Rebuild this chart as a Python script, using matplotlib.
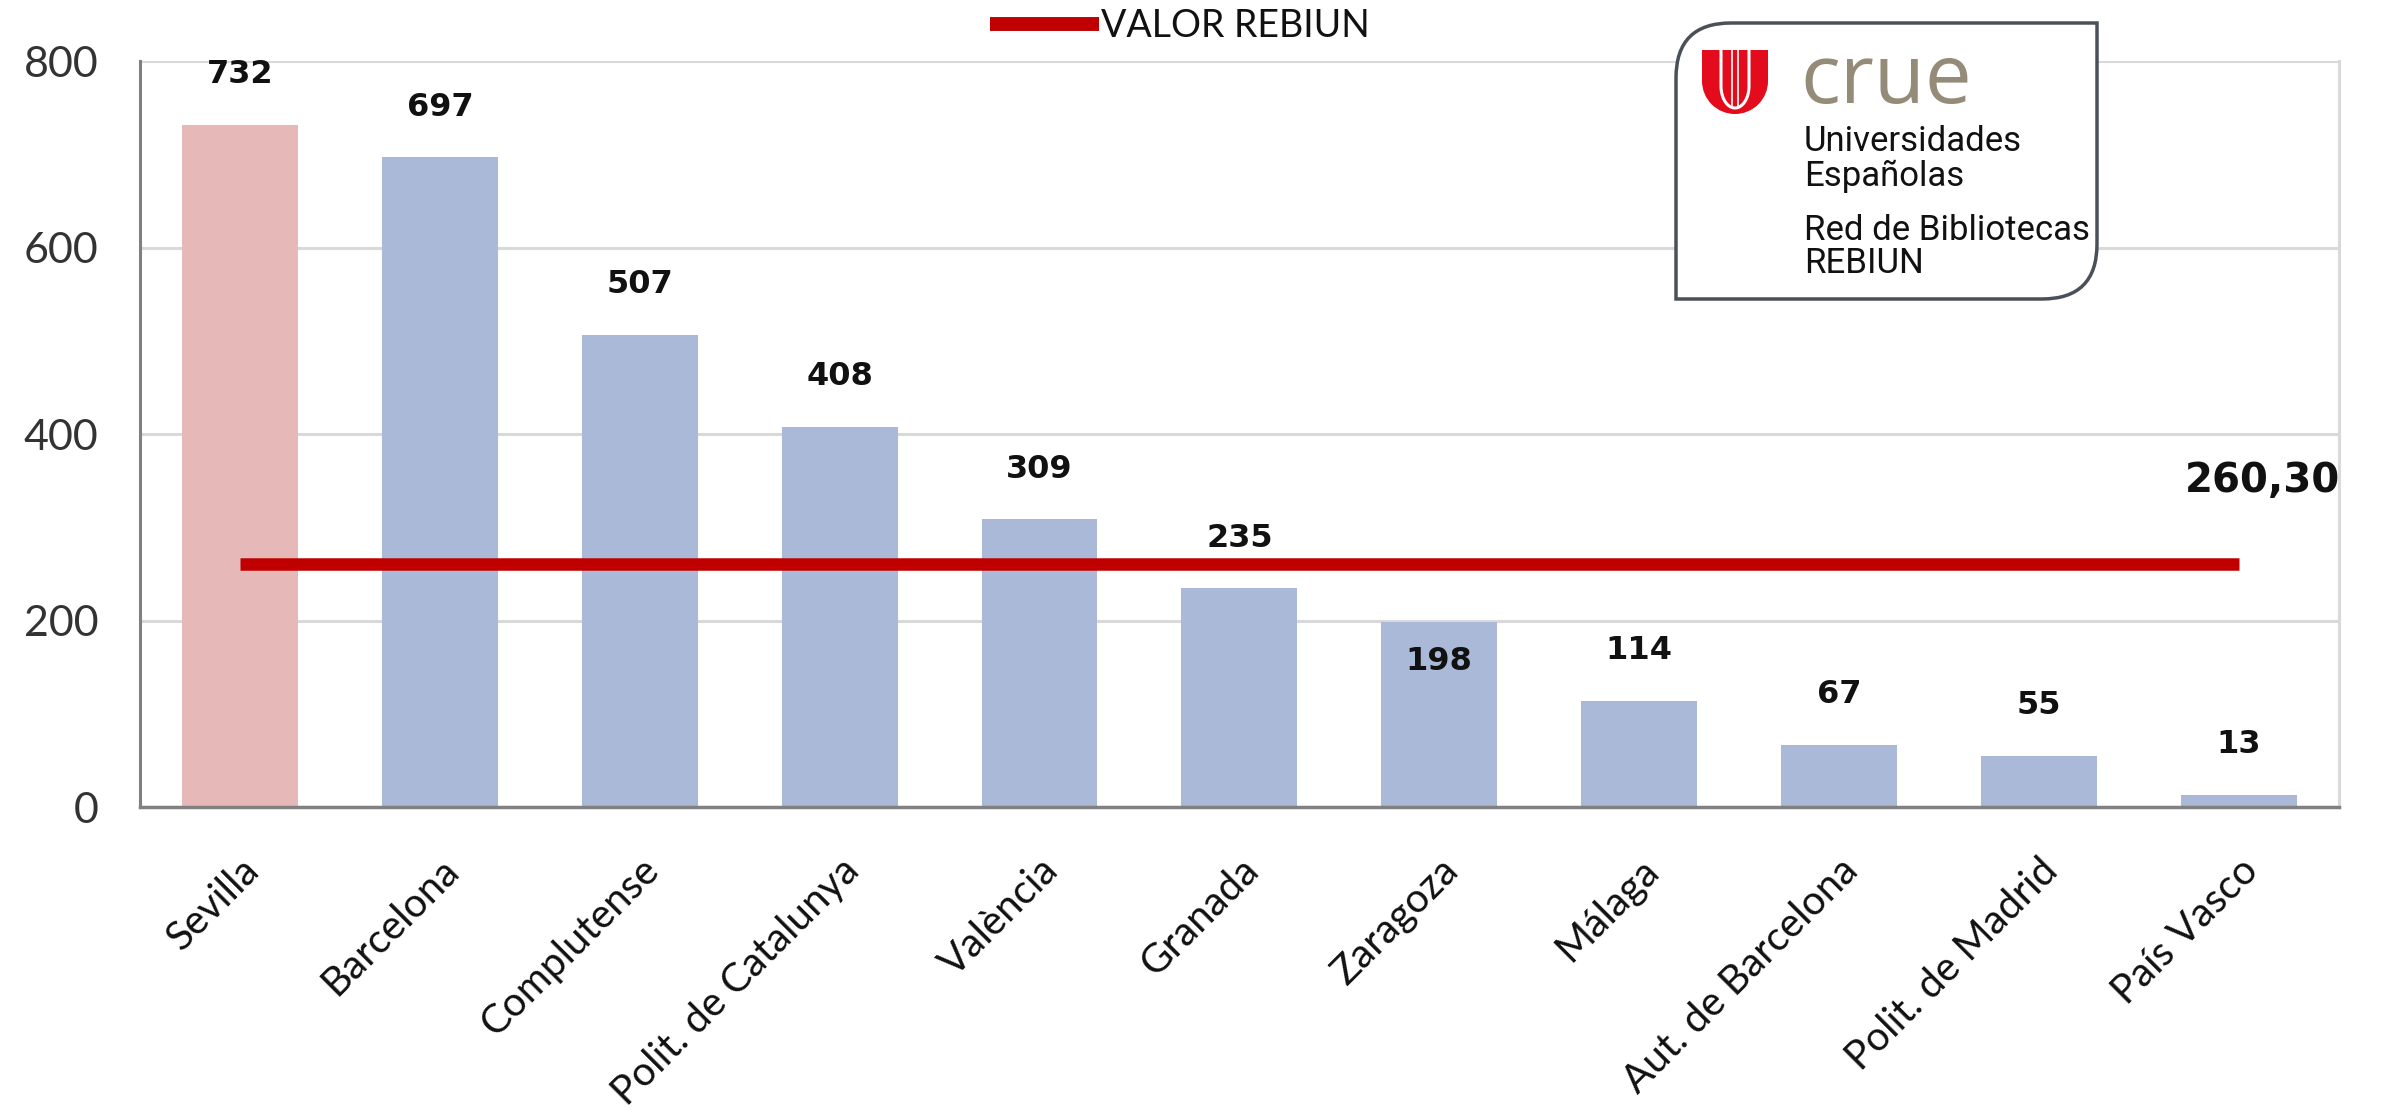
import matplotlib
matplotlib.use('Agg')
import matplotlib.pyplot as plt
import numpy as np
from matplotlib.path import Path
from matplotlib.patches import PathPatch, Rectangle, Wedge

# Dati
universidades = ['Sevilla', 'Barcelona', 'Complutense', 'Polit. de Catalunya', 'València',
                 'Granada', 'Zaragoza', 'Málaga', 'Aut. de Barcelona', 'Polit. de Madrid',
                 'País Vasco']
valores = [732, 697, 507, 408, 309, 235, 198, 114, 67, 55, 13]
valor_rebiun = 260.30
yticks = [0, 200, 400, 600, 800]

COL_ROSA = '#E6B8B7'
COL_AZUL = '#AAB9D7'
COL_ROJO = '#C00000'

plt.rcParams['font.family'] = ['Lato', 'DejaVu Sans']

fig = plt.figure(figsize=(23.89, 11.17), dpi=100)
ax = fig.add_axes([0.0586, 0.2775, 0.9204, 0.6675])

x = np.arange(len(universidades))
colores = [COL_ROSA] + [COL_AZUL] * (len(universidades) - 1)
ax.bar(x, valores, width=0.58, color=colores, zorder=2)

# linea valore REBIUN
ax.plot([x[0], x[-1]], [valor_rebiun, valor_rebiun], color=COL_ROJO, lw=9,
        solid_capstyle='butt', zorder=3, label='VALOR REBIUN')

ax.set_xlim(-0.5, len(universidades) - 0.5)
ax.set_ylim(0, 800)
ax.set_yticks(yticks)
ax.set_yticklabels([str(v) for v in yticks], fontsize=31, color='#333333')
ax.set_xticks(x)
ax.set_xticklabels(universidades, rotation=45, ha='right', rotation_mode='anchor',
                   fontsize=29, color='#111111')
ax.tick_params(axis='x', length=0, pad=32)
ax.tick_params(axis='y', length=0, pad=30)

ax.grid(axis='y', color='#D9D9D9', lw=2.2, zorder=0)
ax.spines['top'].set_visible(False)
ax.spines['right'].set_color('#D9D9D9')
ax.spines['right'].set_linewidth(2.2)
ax.spines['left'].set_color('#808080')
ax.spines['bottom'].set_color('#808080')
ax.spines['left'].set_linewidth(2.2)
ax.spines['bottom'].set_linewidth(2.5)

# etichette valori
for xi, v in zip(x, valores):
    dy = -28 if v == 198 else 36
    ax.annotate(str(v), (xi, v), xytext=(0, dy), textcoords='offset points',
                ha='center', va='center', fontsize=23, fontweight='bold',
                family='DejaVu Sans', color='#111111', zorder=4)

ax.annotate('260,30', (x[-1], valor_rebiun), xytext=(17, 60), textcoords='offset points',
            ha='center', va='center', fontsize=29, fontweight='bold',
            family='DejaVu Sans', color='#111111')

# legenda
leg = ax.legend(loc='center', bbox_to_anchor=(0.494, 0.977), bbox_transform=fig.transFigure,
                frameon=False, fontsize=27, handlelength=2.9, handletextpad=0.05,
                borderpad=0)
for t in leg.get_texts():
    t.set_color('#111111')
leg.get_lines()[0].set_linewidth(10)

# logo crue (coordinate in pixel della figura)
ov = fig.add_axes([0, 0, 1, 1], zorder=10)
ov.set_xlim(0, 2389)
ov.set_ylim(1117, 0)
ov.axis('off')
ov.patch.set_alpha(0)

x0, x1, y0, y1, r = 1676, 2097, 23, 299, 55
verts = [(x0, y1), (x0, y0 + r), (x0, y0), (x0 + r, y0), (x1, y0), (x1, y1 - r),
         (x1, y1), (x1 - r, y1), (x0, y1)]
codes = [Path.MOVETO, Path.LINETO, Path.CURVE3, Path.CURVE3, Path.LINETO, Path.LINETO,
         Path.CURVE3, Path.CURVE3, Path.CLOSEPOLY]
ov.add_patch(PathPatch(Path(verts, codes), facecolor='white', edgecolor='#4A5058', lw=2.5))

# scudo rosso
cx, top, w, h = 1735, 50, 66, 64
ov.add_patch(Rectangle((cx - w / 2, top), w, h - w / 2, color='#E30B1C', lw=0))
ov.add_patch(Wedge((cx, top + h - w / 2), w / 2, 0, 180, color='#E30B1C', lw=0))
t = np.linspace(np.pi, 0, 40)
ux = [cx - 14] + list(cx + 14 * np.cos(t)) + [cx + 14]
uy = [top] + list(top + h - 28 + 22 * np.sin(t)) + [top]
ov.plot(ux, uy, color='white', lw=2.2)
ov.plot([cx - 3, cx - 3], [top, top + h - 8], color='white', lw=1.2)
ov.plot([cx + 3, cx + 3], [top, top + h - 8], color='white', lw=1.2)

ov.text(1800, 103, 'crue', fontsize=60, color='#948C78', family='Open Sans',
        va='baseline', ha='left')
righe = [('Universidades', 151), ('Españolas', 186), ('Red de Bibliotecas', 240),
         ('REBIUN', 273)]
for testo, yb in righe:
    ov.text(1804, yb, testo, fontsize=25, color='#111111', family='Roboto',
            va='baseline', ha='left')

fig.savefig('out.png', dpi=100, facecolor='white')
